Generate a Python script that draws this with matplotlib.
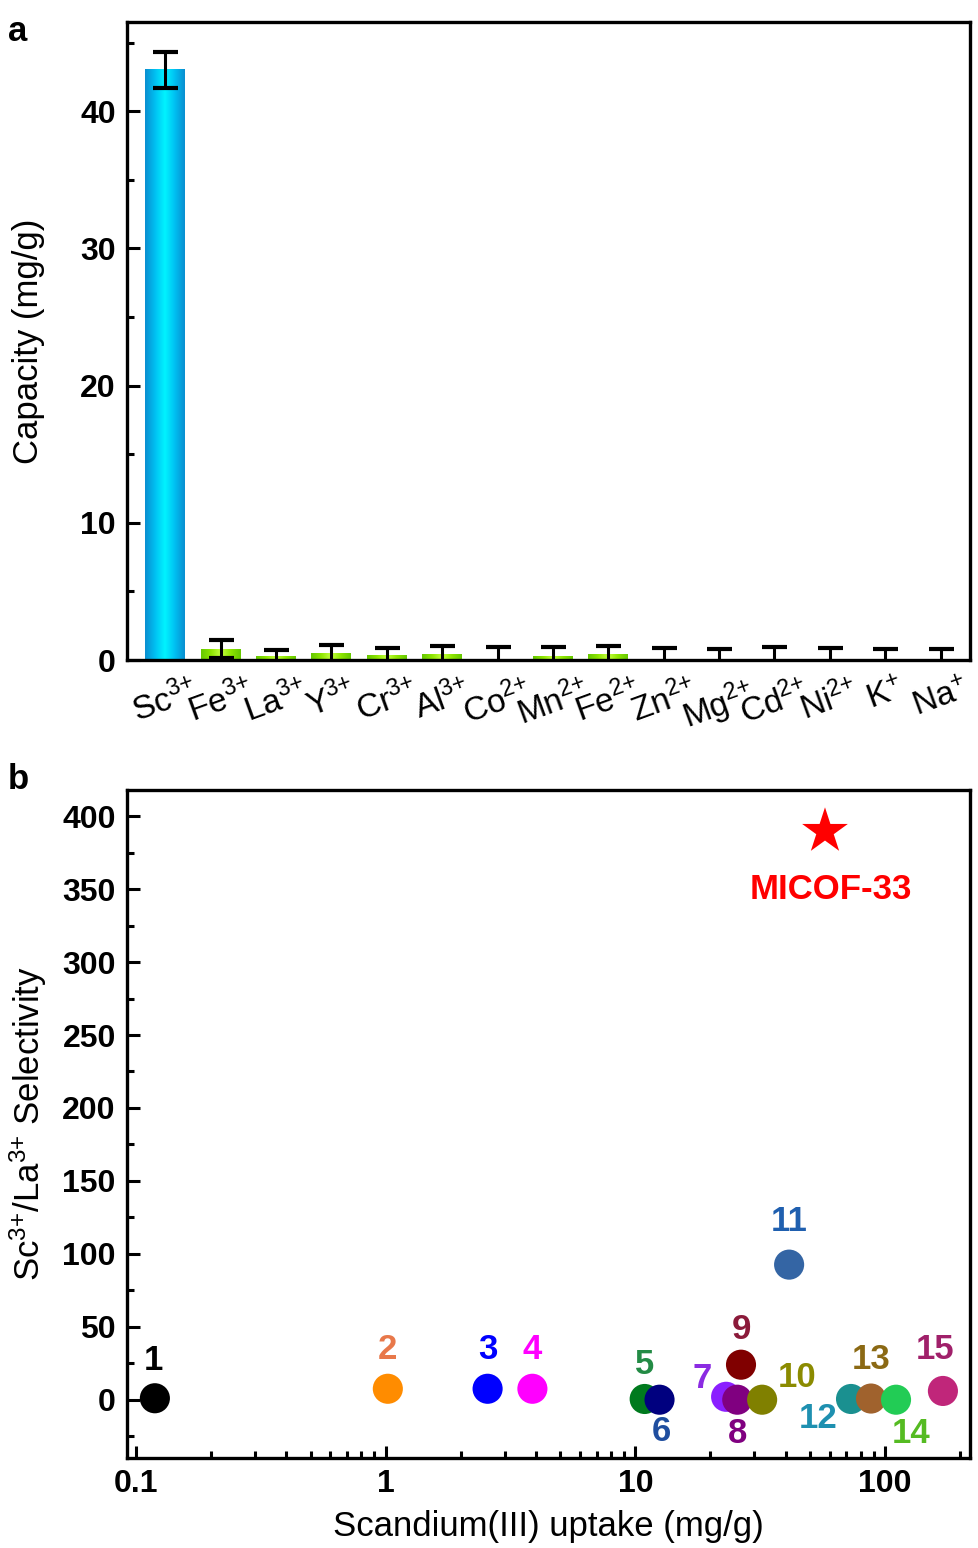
import numpy as np
import matplotlib
matplotlib.use("Agg")
import matplotlib.pyplot as plt
from matplotlib.ticker import MultipleLocator, LogLocator, NullFormatter, FixedLocator
from matplotlib.colors import LinearSegmentedColormap

plt.rcParams["font.family"] = ["Liberation Sans", "DejaVu Sans"]
plt.rcParams["mathtext.fontset"] = "custom"
plt.rcParams["mathtext.rm"] = "Liberation Sans"
plt.rcParams["mathtext.default"] = "regular"

# ── Panel a data ──────────────────────────────────────────────────────────────
ions = [r"Sc$^{3{+}}$", r"Fe$^{3{+}}$", r"La$^{3{+}}$", r"Y$^{3{+}}$", r"Cr$^{3{+}}$",
        r"Al$^{3{+}}$", r"Co$^{2{+}}$", r"Mn$^{2{+}}$", r"Fe$^{2{+}}$", r"Zn$^{2{+}}$",
        r"Mg$^{2{+}}$", r"Cd$^{2{+}}$", r"Ni$^{2{+}}$", r"K$^{{+}}$", r"Na$^{{+}}$"]
capacity = [43.0, 0.80, 0.24, 0.49, 0.32, 0.41, 0.0, 0.29, 0.39, 0.0,
            0.0, 0.0, 0.0, 0.0, 0.0]
cap_err = [1.3, 0.68, 0.49, 0.63, 0.53, 0.59, 0.92, 0.68, 0.63, 0.87,
           0.83, 0.97, 0.87, 0.83, 0.83]

# ── Panel b data ──────────────────────────────────────────────────────────────
ref_ids = ["1", "2", "3", "4", "5", "6", "7", "8", "9", "10",
           "11", "12", "13", "14", "15"]
uptake = [0.119, 1.02, 2.56, 3.87, 10.9, 12.5, 23.1, 25.6, 26.5, 32.2,
          41.3, 73.1, 87.9, 110.7, 170.6]
selectivity = [1.0, 7.5, 7.5, 7.5, 0.5, 0.0, 2.0, 0.0, 24.0, 0.0,
               92.6, 0.5, 0.8, 0.0, 6.0]
micof_uptake = 57.5
micof_sel = 389.6

point_colors = ["#000000", "#FF8C00", "#0000FF", "#FF00FF", "#007A1E",
                "#00007F", "#8B1FFF", "#800080", "#800000", "#808000",
                "#3465A4", "#1A9090", "#A0622D", "#22CC55", "#C0267A"]
label_colors = ["#000000", "#E8784A", "#0000FF", "#FF00FF", "#238B45",
                "#1F4E9F", "#8B2BE2", "#800080", "#8B1A3A", "#8B8B00",
                "#1F5FAF", "#1E90B0", "#8B6914", "#55BB22", "#A0206A"]
# label offsets in points (dx, dy)
label_off = [(-1, 27), (0, 28), (0, 28), (0, 28), (0, 25),
             (1, -23), (-17, 13), (0, -24), (0, 25), (25, 16),
             (0, 31), (-24, -14), (0, 28), (11, -24), (-6, 30)]

fig = plt.figure(figsize=(9.79, 15.48), dpi=100)

# ══════════════════════════════════════════════════════════════════════════════
# Panel a
# ══════════════════════════════════════════════════════════════════════════════
ax = fig.add_axes([0.1297, 0.5736, 0.8611, 0.4122])
x = np.arange(len(ions))
width = 0.72
blue_cmap = LinearSegmentedColormap.from_list(
    "b", ["#0A8FD0", "#00C0F2", "#00F4FF", "#00C0F2", "#0A8FD0"])
green_cmap = LinearSegmentedColormap.from_list(
    "g", ["#66C800", "#8EE600", "#C4FF40", "#8EE600", "#66C800"])
grad = np.linspace(0, 1, 64).reshape(1, -1)
for i, v in enumerate(capacity):
    if v <= 0:
        continue
    cm = blue_cmap if i == 0 else green_cmap
    ax.imshow(grad, cmap=cm, aspect="auto", interpolation="bicubic",
              extent=[x[i] - width / 2, x[i] + width / 2, 0, v], zorder=1)
ax.errorbar(x, capacity, yerr=cap_err, fmt="none", ecolor="black",
            elinewidth=2.2, capsize=9, capthick=3, zorder=3)
ax.set_xlim(-0.69, 14.53)
ax.set_ylim(0, 46.5)
ax.set_xticks(x)
ax.set_xticklabels(ions, rotation=20, ha="center", fontsize=24)
ax.tick_params(axis="x", length=0, pad=10)
ax.yaxis.set_major_locator(MultipleLocator(10))
ax.yaxis.set_minor_locator(MultipleLocator(5))
ax.tick_params(axis="y", which="major", direction="in", length=9, width=2.2,
               labelsize=23, right=False, pad=8)
ax.tick_params(axis="y", which="minor", direction="in", length=5, width=2.2,
               right=False)
for lab in ax.get_yticklabels():
    lab.set_fontweight("bold")
ax.set_ylabel("Capacity (mg/g)", fontsize=25)
ax.yaxis.set_label_coords(-0.097, 0.5)
for sp in ax.spines.values():
    sp.set_linewidth(2.4)
fig.text(0.008, 0.99, "a", fontsize=25, fontweight="bold", va="top")

# ══════════════════════════════════════════════════════════════════════════════
# Panel b
# ══════════════════════════════════════════════════════════════════════════════
bx = fig.add_axes([0.1297, 0.0581, 0.8611, 0.4316])
bx.set_xscale("log")
bx.scatter(uptake, selectivity, s=470, c=point_colors, edgecolors="none",
           zorder=3)
for i, lab in enumerate(ref_ids):
    bx.annotate(lab, (uptake[i], selectivity[i]), xytext=label_off[i],
                textcoords="offset points", ha="center", va="center",
                fontsize=25, fontweight="bold", color=label_colors[i])
bx.scatter([micof_uptake], [micof_sel], s=1200, marker="*", color="#FF0000",
           edgecolors="none", zorder=3)
bx.annotate("MICOF-33", (micof_uptake, micof_sel), xytext=(4, -42),
            textcoords="offset points", ha="center", va="center",
            fontsize=25, fontweight="bold", color="#FF0000")
bx.set_xlim(0.092, 219)
bx.set_ylim(-40, 418)
bx.yaxis.set_major_locator(MultipleLocator(50))
bx.yaxis.set_minor_locator(MultipleLocator(25))
bx.xaxis.set_major_locator(FixedLocator([0.1, 1, 10, 100]))
bx.xaxis.set_minor_locator(LogLocator(base=10, subs=np.arange(2, 10)))
bx.xaxis.set_minor_formatter(NullFormatter())
bx.set_xticklabels(["0.1", "1", "10", "100"])
bx.tick_params(which="major", direction="in", length=9, width=2.2,
               labelsize=23, top=False, right=False, pad=8)
bx.tick_params(which="minor", direction="in", length=5, width=2.2,
               top=False, right=False)
for lab in bx.get_yticklabels() + bx.get_xticklabels():
    lab.set_fontweight("bold")
bx.set_xlabel("Scandium(III) uptake (mg/g)", fontsize=25)
bx.xaxis.set_label_coords(0.5, -0.078)
bx.set_ylabel(r"Sc$^{3{+}}$/La$^{3{+}}$ Selectivity", fontsize=25)
bx.yaxis.set_label_coords(-0.092, 0.5)
for sp in bx.spines.values():
    sp.set_linewidth(2.4)
fig.text(0.008, 0.507, "b", fontsize=25, fontweight="bold", va="top")

fig.savefig("out.png", dpi=100)
